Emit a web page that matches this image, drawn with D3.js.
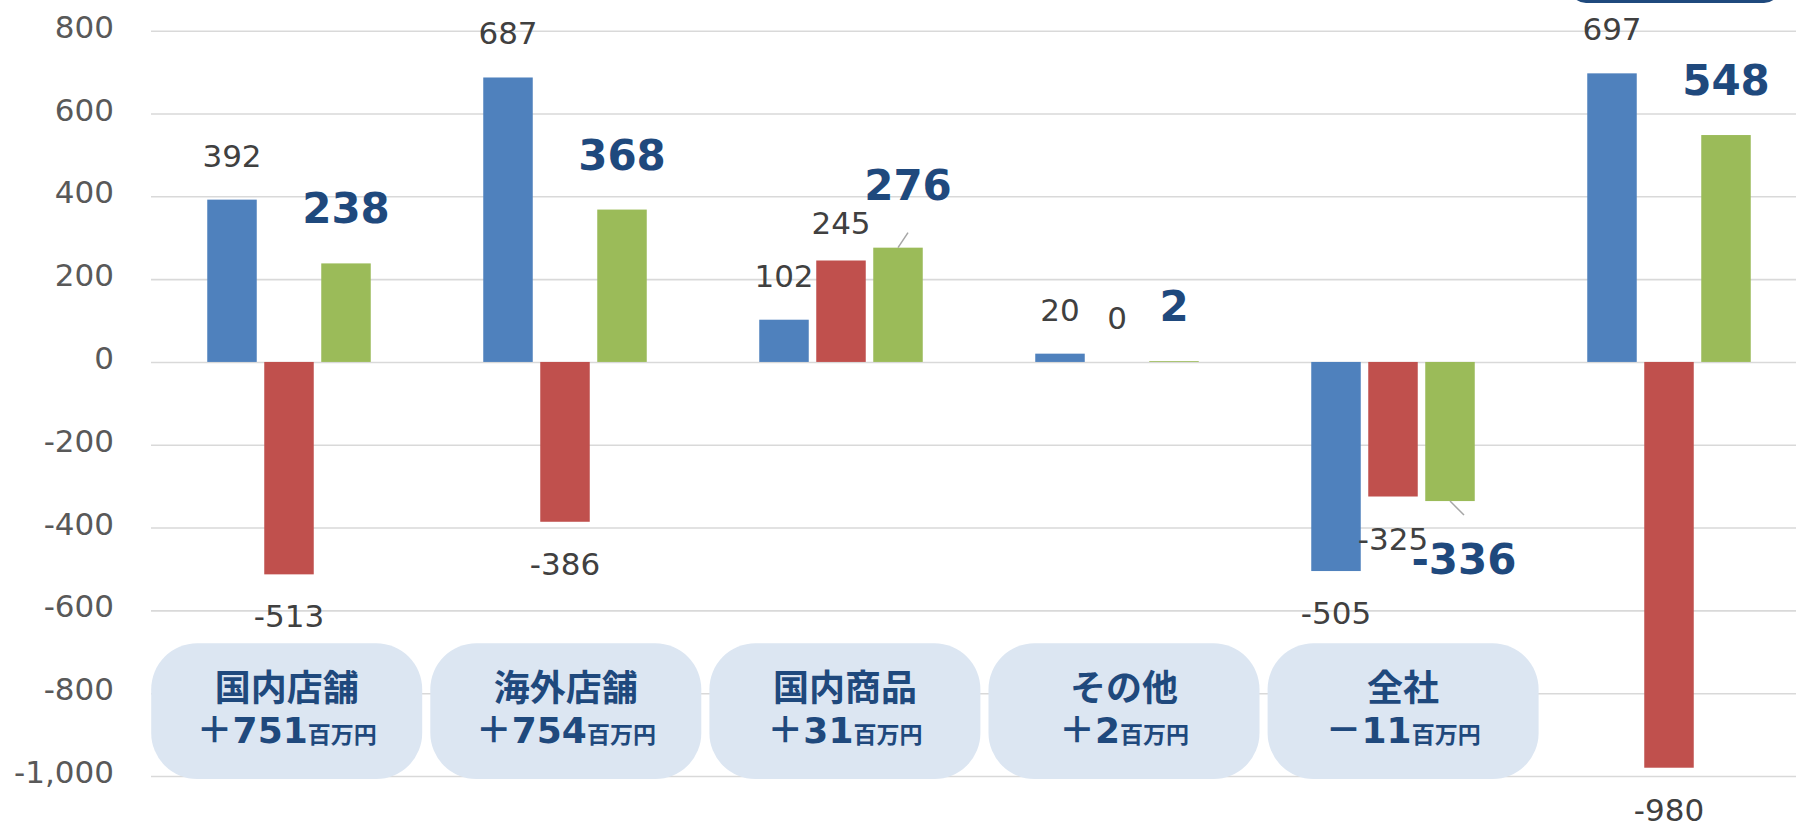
<!DOCTYPE html>
<html>
<head>
<meta charset="utf-8">
<script src="https://cdn.jsdelivr.net/npm/d3@7"></script>
<style>
  body { margin: 0; background: white; }
  svg { display: block; }
</style>
</head>
<body>
<div class="content"></div>
<script>
// chart data
const groups = [0, 1, 2, 3, 4, 5]
const seriesNames = ['a', 'b', 'c']
const blueValues = [392, 687, 102, 20, -505, 697]
const redValues = [-513, -386, 245, 0, -325, -980]
const greenValues = [238, 368, 276, 2, -336, 548]
const boxTitles = ['国内店舗', '海外店舗', '国内商品', 'その他', '全社']
const boxSigns = ['＋', '＋', '＋', '＋', '－']
const boxAmounts = ['751', '754', '31', '2', '11']
const boxUnit = '百万円'
const yTicks = [800, 600, 400, 200, 0, -200, -400, -600, -800, -1000]

const width = 1796
const height = 822
const colors = { a: '#4F81BD', b: '#C0504D', c: '#9BBB59' }
const darkBlue = '#1F497D'
const numFont = '"DejaVu Sans", Verdana, sans-serif'
const jpFont = '"Noto Sans CJK JP", "Noto Sans", sans-serif'

let svg = d3.select('div.content')
    .append('svg')
    .attr('width', width)
    .attr('height', height)
    .style('overflow', 'hidden')

let y = d3.scaleLinear()
    .domain([-1000, 800])
    .range([776, 30.7])

// the plot runs past the right edge of the picture
let x0 = d3.scaleBand()
    .domain(groups)
    .range([151, 1807])
    .paddingInner(0.4076)
    .paddingOuter(0.2038)

let x1 = d3.scaleBand()
    .domain(seriesNames)
    .range([0, x0.bandwidth()])
    .paddingInner(0.1316)
    .paddingOuter(0)

// gridlines
svg.append('g')
    .attr('class', 'grid')
    .attr('transform', 'translate(151,0)')
    .call(d3.axisLeft(y).tickValues(yTicks).tickSize(-(width - 151)).tickFormat(''))
    .call(g => g.select('.domain').remove())
    .call(g => g.selectAll('line').attr('stroke', '#D9D9D9').attr('stroke-width', 1.6))

// tick labels, plain hyphen for the minus sign like the original
let fmt = d3.format(',')
svg.append('g')
    .attr('class', 'y-axis')
    .attr('transform', 'translate(114,0)')
    .call(d3.axisLeft(y).tickValues(yTicks).tickSize(0).tickPadding(0)
        .tickFormat(d => fmt(d).replace('−', '-')))
    .call(g => g.select('.domain').remove())
    .call(g => g.selectAll('text')
        .attr('fill', '#595959')
        .attr('font-family', numFont)
        .attr('font-size', 31)
        .attr('dy', 6.5))

// rows for drawing
let rows = []
groups.forEach((g, i) => {
    rows.push({ group: g, series: 'a', value: blueValues[i] })
    rows.push({ group: g, series: 'b', value: redValues[i] })
    rows.push({ group: g, series: 'c', value: greenValues[i] })
})

svg.append('g')
    .attr('class', 'bars')
    .selectAll('rect')
    .data(rows)
    .join('rect')
    .attr('x', d => x0(d.group) + x1(d.series))
    .attr('width', x1.bandwidth())
    .attr('y', d => Math.min(y(d.value), y(0)))
    .attr('height', d => Math.abs(y(d.value) - y(0)))
    .attr('fill', d => colors[d.series])

// a few labels were moved by hand in the original
const labelShift = {
    'b-2': [0, 6],
    'c-2': [10, -8],
    'c-4': [14, 10]
}

function labelY(d) {
    let big = d.series === 'c'
    let base = d.value >= 0
        ? y(d.value) - (big ? 40 : 33)
        : y(d.value) + (big ? 63 : 53)
    let shift = labelShift[d.series + '-' + d.group] || [0, 0]
    return base + shift[1]
}
function labelX(d) {
    let shift = labelShift[d.series + '-' + d.group] || [0, 0]
    return x0(d.group) + x1(d.series) + x1.bandwidth() / 2 + shift[0]
}

// leader lines for the moved green labels
svg.append('g')
    .attr('class', 'leaders')
    .selectAll('line')
    .data(rows.filter(d => d.series === 'c' && labelShift['c-' + d.group]))
    .join('line')
    .attr('x1', d => x0(d.group) + x1(d.series) + x1.bandwidth() / 2)
    .attr('y1', d => y(d.value))
    .attr('x2', d => labelX(d))
    .attr('y2', d => d.value >= 0 ? y(d.value) - 15 : y(d.value) + 14)
    .attr('stroke', '#A6A6A6')
    .attr('stroke-width', 1.5)

svg.append('g')
    .attr('class', 'labels')
    .selectAll('text')
    .data(rows)
    .join('text')
    .attr('x', d => labelX(d))
    .attr('y', d => labelY(d))
    .attr('text-anchor', 'middle')
    .attr('font-family', numFont)
    .attr('font-size', d => d.series === 'c' ? 42 : 31)
    .attr('font-weight', d => d.series === 'c' ? 'bold' : 'normal')
    .attr('fill', d => d.series === 'c' ? darkBlue : '#404040')
    .text(d => d.value)

// category boxes
let xb = d3.scaleBand()
    .domain(boxTitles)
    .range([151.2, 1538.6])
    .paddingInner(0.029)
    .paddingOuter(0)

let boxes = svg.append('g')
    .attr('class', 'boxes')
    .selectAll('g')
    .data(boxTitles)
    .join('g')
    .attr('transform', d => `translate(${xb(d)}, 643.3)`)

boxes.append('rect')
    .attr('width', xb.bandwidth())
    .attr('height', 135.7)
    .attr('rx', 46)
    .attr('ry', 46)
    .attr('fill', '#DCE6F2')

boxes.append('text')
    .attr('x', xb.bandwidth() / 2)
    .attr('y', 57.5)
    .attr('text-anchor', 'middle')
    .attr('font-family', jpFont)
    .attr('font-weight', 'bold')
    .attr('font-size', 36)
    .attr('fill', darkBlue)
    .text(d => d)

let line2 = boxes.append('text')
    .attr('x', xb.bandwidth() / 2)
    .attr('y', 100)
    .attr('text-anchor', 'middle')
    .attr('font-weight', 'bold')
    .attr('fill', darkBlue)
line2.append('tspan')
    .attr('font-family', jpFont)
    .attr('font-size', 36)
    .text((d, i) => boxSigns[i])
line2.append('tspan')
    .attr('font-family', numFont)
    .attr('font-size', 36)
    .text((d, i) => boxAmounts[i])
line2.append('tspan')
    .attr('font-family', jpFont)
    .attr('font-size', 23)
    .text(boxUnit)

// edge of a shape cut off at the top right
svg.append('rect')
    .attr('x', 1570)
    .attr('y', -60)
    .attr('width', 210)
    .attr('height', 63)
    .attr('rx', 16)
    .attr('fill', darkBlue)
</script>
</body>
</html>
